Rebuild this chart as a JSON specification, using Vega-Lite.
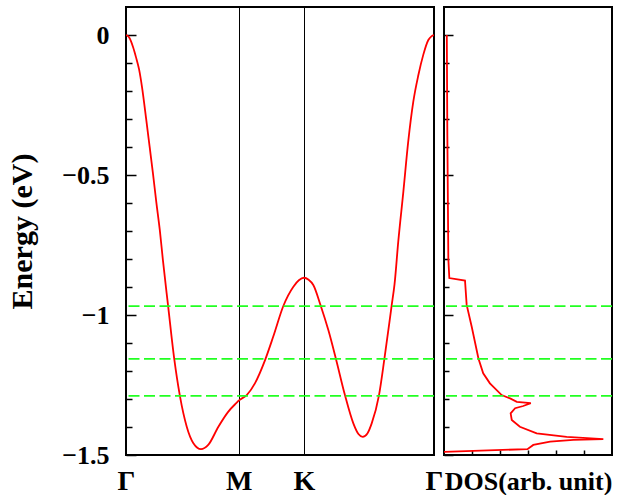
{
  "$schema": "https://vega.github.io/schema/vega-lite/v6.json",
  "background": "white",
  "padding": {"left": 6, "top": 6, "right": 5, "bottom": 0},
  "spacing": 10,
  "bounds": "flush",
  "config": {
    "view": {"stroke": "black", "strokeWidth": 2},
    "font": "Liberation Serif",
    "axis": {"tickColor": "black", "tickWidth": 1.5, "labelColor": "black", "titleColor": "black", "labelFont": "Liberation Serif", "titleFont": "Liberation Serif", "domain": false, "grid": false}
  },
  "datasets": {
    "band": [
      {"k": 0, "E": 0}, {"k": 0.009, "E": -0.003}, {"k": 0.018, "E": -0.011}, {"k": 0.036, "E": -0.043},
      {"k": 0.051, "E": -0.079}, {"k": 0.067, "E": -0.123}, {"k": 0.082, "E": -0.186}, {"k": 0.104, "E": -0.304},
      {"k": 0.121, "E": -0.399}, {"k": 0.138, "E": -0.494}, {"k": 0.155, "E": -0.596}, {"k": 0.173, "E": -0.696},
      {"k": 0.189, "E": -0.804}, {"k": 0.215, "E": -0.964},
      {"k": 0.247, "E": -1.157}, {"k": 0.276, "E": -1.289}, {"k": 0.311, "E": -1.399}, {"k": 0.345, "E": -1.458},
      {"k": 0.384, "E": -1.479}, {"k": 0.421, "E": -1.464}, {"k": 0.473, "E": -1.399}, {"k": 0.524, "E": -1.345},
      {"k": 0.567, "E": -1.313}, {"k": 0.577, "E": -1.306}, {"k": 0.618, "E": -1.286}, {"k": 0.66, "E": -1.244},
      {"k": 0.712, "E": -1.161}, {"k": 0.754, "E": -1.077}, {"k": 0.806, "E": -0.967}, {"k": 0.857, "E": -0.899},
      {"k": 0.885, "E": -0.876}, {"k": 0.911, "E": -0.867}, {"k": 0.935, "E": -0.874}, {"k": 0.959, "E": -0.893},
      {"k": 0.997, "E": -0.967}, {"k": 1.036, "E": -1.054}, {"k": 1.075, "E": -1.157}, {"k": 1.121, "E": -1.286},
      {"k": 1.164, "E": -1.387}, {"k": 1.19, "E": -1.425}, {"k": 1.212, "E": -1.435}, {"k": 1.236, "E": -1.423},
      {"k": 1.258, "E": -1.387}, {"k": 1.295, "E": -1.288}, {"k": 1.323, "E": -1.157}, {"k": 1.36, "E": -0.967},
      {"k": 1.375, "E": -0.89}, {"k": 1.394, "E": -0.738}, {"k": 1.42, "E": -0.56}, {"k": 1.445, "E": -0.381},
      {"k": 1.471, "E": -0.238}, {"k": 1.497, "E": -0.143}, {"k": 1.522, "E": -0.071}, {"k": 1.548, "E": -0.018},
      {"k": 1.565, "E": -0.004}, {"k": 1.577, "E": 0}
    ],
    "dos": [
      {"i": 1, "v": 0.1, "E": 0}, {"i": 2, "v": 0.12, "E": -0.36}, {"i": 3, "v": 0.155, "E": -0.8},
      {"i": 4, "v": 0.19, "E": -0.868}, {"i": 5, "v": 0.75, "E": -0.877}, {"i": 6, "v": 0.81, "E": -0.964},
      {"i": 7, "v": 0.99, "E": -1.042}, {"i": 8, "v": 1.23, "E": -1.155}, {"i": 9, "v": 1.4, "E": -1.208},
      {"i": 10, "v": 1.64, "E": -1.244}, {"i": 11, "v": 2.06, "E": -1.286}, {"i": 12, "v": 2.36, "E": -1.298},
      {"i": 13, "v": 2.6, "E": -1.31}, {"i": 14, "v": 3.1, "E": -1.315}, {"i": 15, "v": 2.83, "E": -1.325},
      {"i": 16, "v": 2.54, "E": -1.333}, {"i": 17, "v": 2.38, "E": -1.351}, {"i": 18, "v": 2.42, "E": -1.375},
      {"i": 19, "v": 2.71, "E": -1.399}, {"i": 20, "v": 3.31, "E": -1.423}, {"i": 21, "v": 4.38, "E": -1.435},
      {"i": 22, "v": 5.69, "E": -1.443}, {"i": 23, "v": 4.62, "E": -1.446}, {"i": 24, "v": 3.79, "E": -1.452},
      {"i": 25, "v": 3.19, "E": -1.464}, {"i": 26, "v": 2.98, "E": -1.479}, {"i": 27, "v": 0, "E": -1.489}
    ],
    "lines": [{"E": -0.968}, {"E": -1.157}, {"E": -1.289}]
  },
  "hconcat": [
    {
      "width": 308,
      "height": 448,
      "layer": [
        {
          "data": {"name": "band"},
          "mark": {"type": "line", "color": "#ff0000", "strokeWidth": 1.8, "interpolate": "monotone", "clip": true},
          "encoding": {
            "x": {"field": "k", "type": "quantitative", "scale": {"domain": [0, 1.577], "nice": false, "zero": false},
              "axis": {"values": [0, 0.577, 0.911, 1.577], "labelExpr": "datum.value < 0.1 ? 'Γ' : (datum.value < 0.7 ? 'M' : (datum.value < 1 ? 'K' : 'Γ'))",
                "title": null, "ticks": false, "grid": true, "gridColor": "black", "gridWidth": 1, "gridOpacity": 1,
                "labelFontSize": 28, "labelFontWeight": "bold", "labelPadding": 12, "labelFlush": false}},
            "y": {"field": "E", "type": "quantitative", "scale": {"domain": [-1.5, 0.1], "nice": false, "zero": false},
              "axis": {"orient": "left", "values": [0, -0.5, -1, -1.5],
                "labelExpr": "datum.value < 0 ? '\u2212' + format(-datum.value, '~g') : '0'", "tickSize": -10,
                "labelPadding": 27, "labelFontSize": 26, "labelFontWeight": "bold",
                "title": "Energy (eV)", "titleFontSize": 30, "titleFontWeight": "bold", "titlePadding": 24}}
          }
        },
        {
          "data": {"name": "lines"},
          "mark": {"type": "rule", "color": "#22ff22", "strokeWidth": 1.7, "strokeDash": [11, 4.5]},
          "encoding": {
            "y": {"field": "E", "type": "quantitative",
              "axis": {"orient": "left", "values": [-1.4, -1.3, -1.2, -1.1, -0.9, -0.8, -0.7, -0.6, -0.4, -0.3, -0.2, -0.1],
                "tickSize": -6, "labels": false, "title": null}}
          }
        }
      ],
      "resolve": {"axis": {"y": "independent"}}
    },
    {
      "width": 168,
      "height": 448,
      "layer": [
        {
          "data": {"name": "dos"},
          "mark": {"type": "line", "color": "#ff0000", "strokeWidth": 1.8, "clip": true},
          "encoding": {
            "x": {"field": "v", "type": "quantitative", "scale": {"domain": [0, 6], "nice": false, "zero": false},
              "axis": {"values": [1, 2, 3, 4, 5], "tickSize": -5, "labels": false,
                "title": "DOS(arb. unit)", "titleFontSize": 26, "titleFontWeight": "bold", "titlePadding": 13}},
            "y": {"field": "E", "type": "quantitative", "scale": {"domain": [-1.5, 0.1], "nice": false, "zero": false},
              "axis": {"orient": "left", "values": [0, -0.5, -1, -1.5], "tickSize": -9, "labels": false, "title": null}},
            "order": {"field": "i", "type": "quantitative"}
          }
        },
        {
          "data": {"name": "lines"},
          "mark": {"type": "rule", "color": "#22ff22", "strokeWidth": 1.7, "strokeDash": [11, 4.5]},
          "encoding": {
            "y": {"field": "E", "type": "quantitative",
              "axis": {"orient": "left", "values": [-1.4, -1.3, -1.2, -1.1, -0.9, -0.8, -0.7, -0.6, -0.4, -0.3, -0.2, -0.1],
                "tickSize": -5, "labels": false, "title": null}}
          }
        }
      ],
      "resolve": {"axis": {"y": "independent"}}
    }
  ]
}
